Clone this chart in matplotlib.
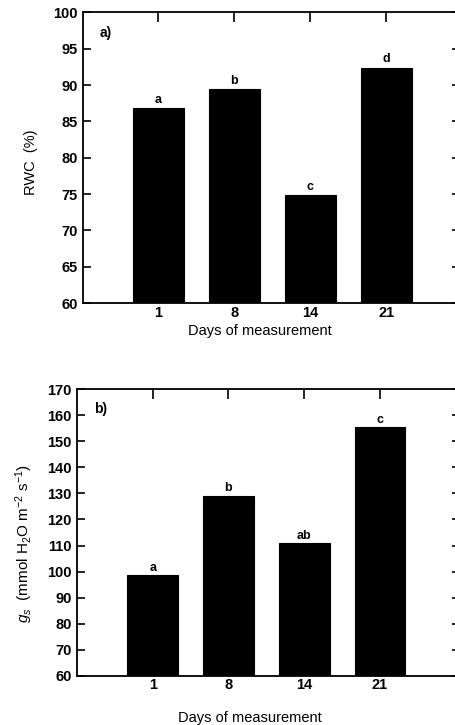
import matplotlib
matplotlib.use("Agg")
import matplotlib.pyplot as plt
import numpy as np

plt.rcParams['font.family'] = ['Liberation Sans', 'DejaVu Sans']
plt.rcParams['mathtext.fontset'] = 'custom'
plt.rcParams['mathtext.rm'] = 'Liberation Sans'
plt.rcParams['mathtext.it'] = 'Liberation Sans:italic'
plt.rcParams['mathtext.bf'] = 'Liberation Sans:bold'

# Data
days = ['1', '8', '14', '21']
rwc = [86.8, 89.4, 74.8, 92.4]
rwc_letters = ['a', 'b', 'c', 'd']
gs = [98.5, 129.2, 110.9, 155.5]
gs_letters = ['a', 'b', 'ab', 'c']


def draw_panel(ax, values, letters, ylim, yticks, ylabel, tag, xlim, offset,
               ylabel_size=10.5):
    x = np.arange(len(days))
    ax.bar(x, [v - ylim[0] for v in values], bottom=ylim[0], width=0.67,
           color='black', edgecolor='black', linewidth=0.8)
    for xi, v, lab in zip(x, values, letters):
        ax.text(xi, v + offset, lab, ha='center', va='bottom',
                fontsize=9, fontweight='bold')
    ax.set_xlim(*xlim)
    ax.set_ylim(*ylim)
    ax.set_yticks(yticks)
    ax.set_xticks(x)
    ax.set_xticklabels(days, fontweight='bold', fontsize=10.5)
    for lbl in ax.get_yticklabels():
        lbl.set_fontweight('bold')
        lbl.set_fontsize(10.5)
    # ticks only along the top edge, labels below
    ax.tick_params(axis='x', bottom=False, top=True, direction='in',
                   length=7, width=1.2, pad=2)
    ax.tick_params(axis='x', labelbottom=True)
    ax.tick_params(axis='y', left=True, right=True, direction='in',
                   length=6, width=1.2, pad=4)
    for s in ax.spines.values():
        s.set_linewidth(1.3)
    ax.set_ylabel(ylabel, fontsize=ylabel_size)
    ax.set_xlabel('Days of measurement', fontsize=10.5)
    ax.text(0.045, 0.93, tag, transform=ax.transAxes, fontsize=10,
            fontweight='bold', ha='left', va='center')


fig = plt.figure(figsize=(4.56, 7.25), dpi=100)

ax1 = fig.add_axes([0.182, 0.582, 0.827, 0.401])
draw_panel(ax1, rwc, rwc_letters, (60, 100), np.arange(60, 101, 5),
           'RWC  (%)', 'a)', (-0.99, 3.97), 0.3)
ax1.xaxis.set_label_coords(0.47, -0.072)
ax1.yaxis.set_label_coords(-0.12, 0.485)

ax2 = fig.add_axes([0.169, 0.068, 0.840, 0.395])
draw_panel(ax2, gs, gs_letters, (60, 170), np.arange(60, 171, 10),
           r'$g_s$  (mmol H$_2$O m$^{-2}$ s$^{-1}$)', 'b)', (-1.0, 4.06), 0.6,
           ylabel_size=11)
ax2.xaxis.set_label_coords(0.45, -0.123)
ax2.yaxis.set_label_coords(-0.11, 0.46)

fig.savefig('out.png', dpi=100)
